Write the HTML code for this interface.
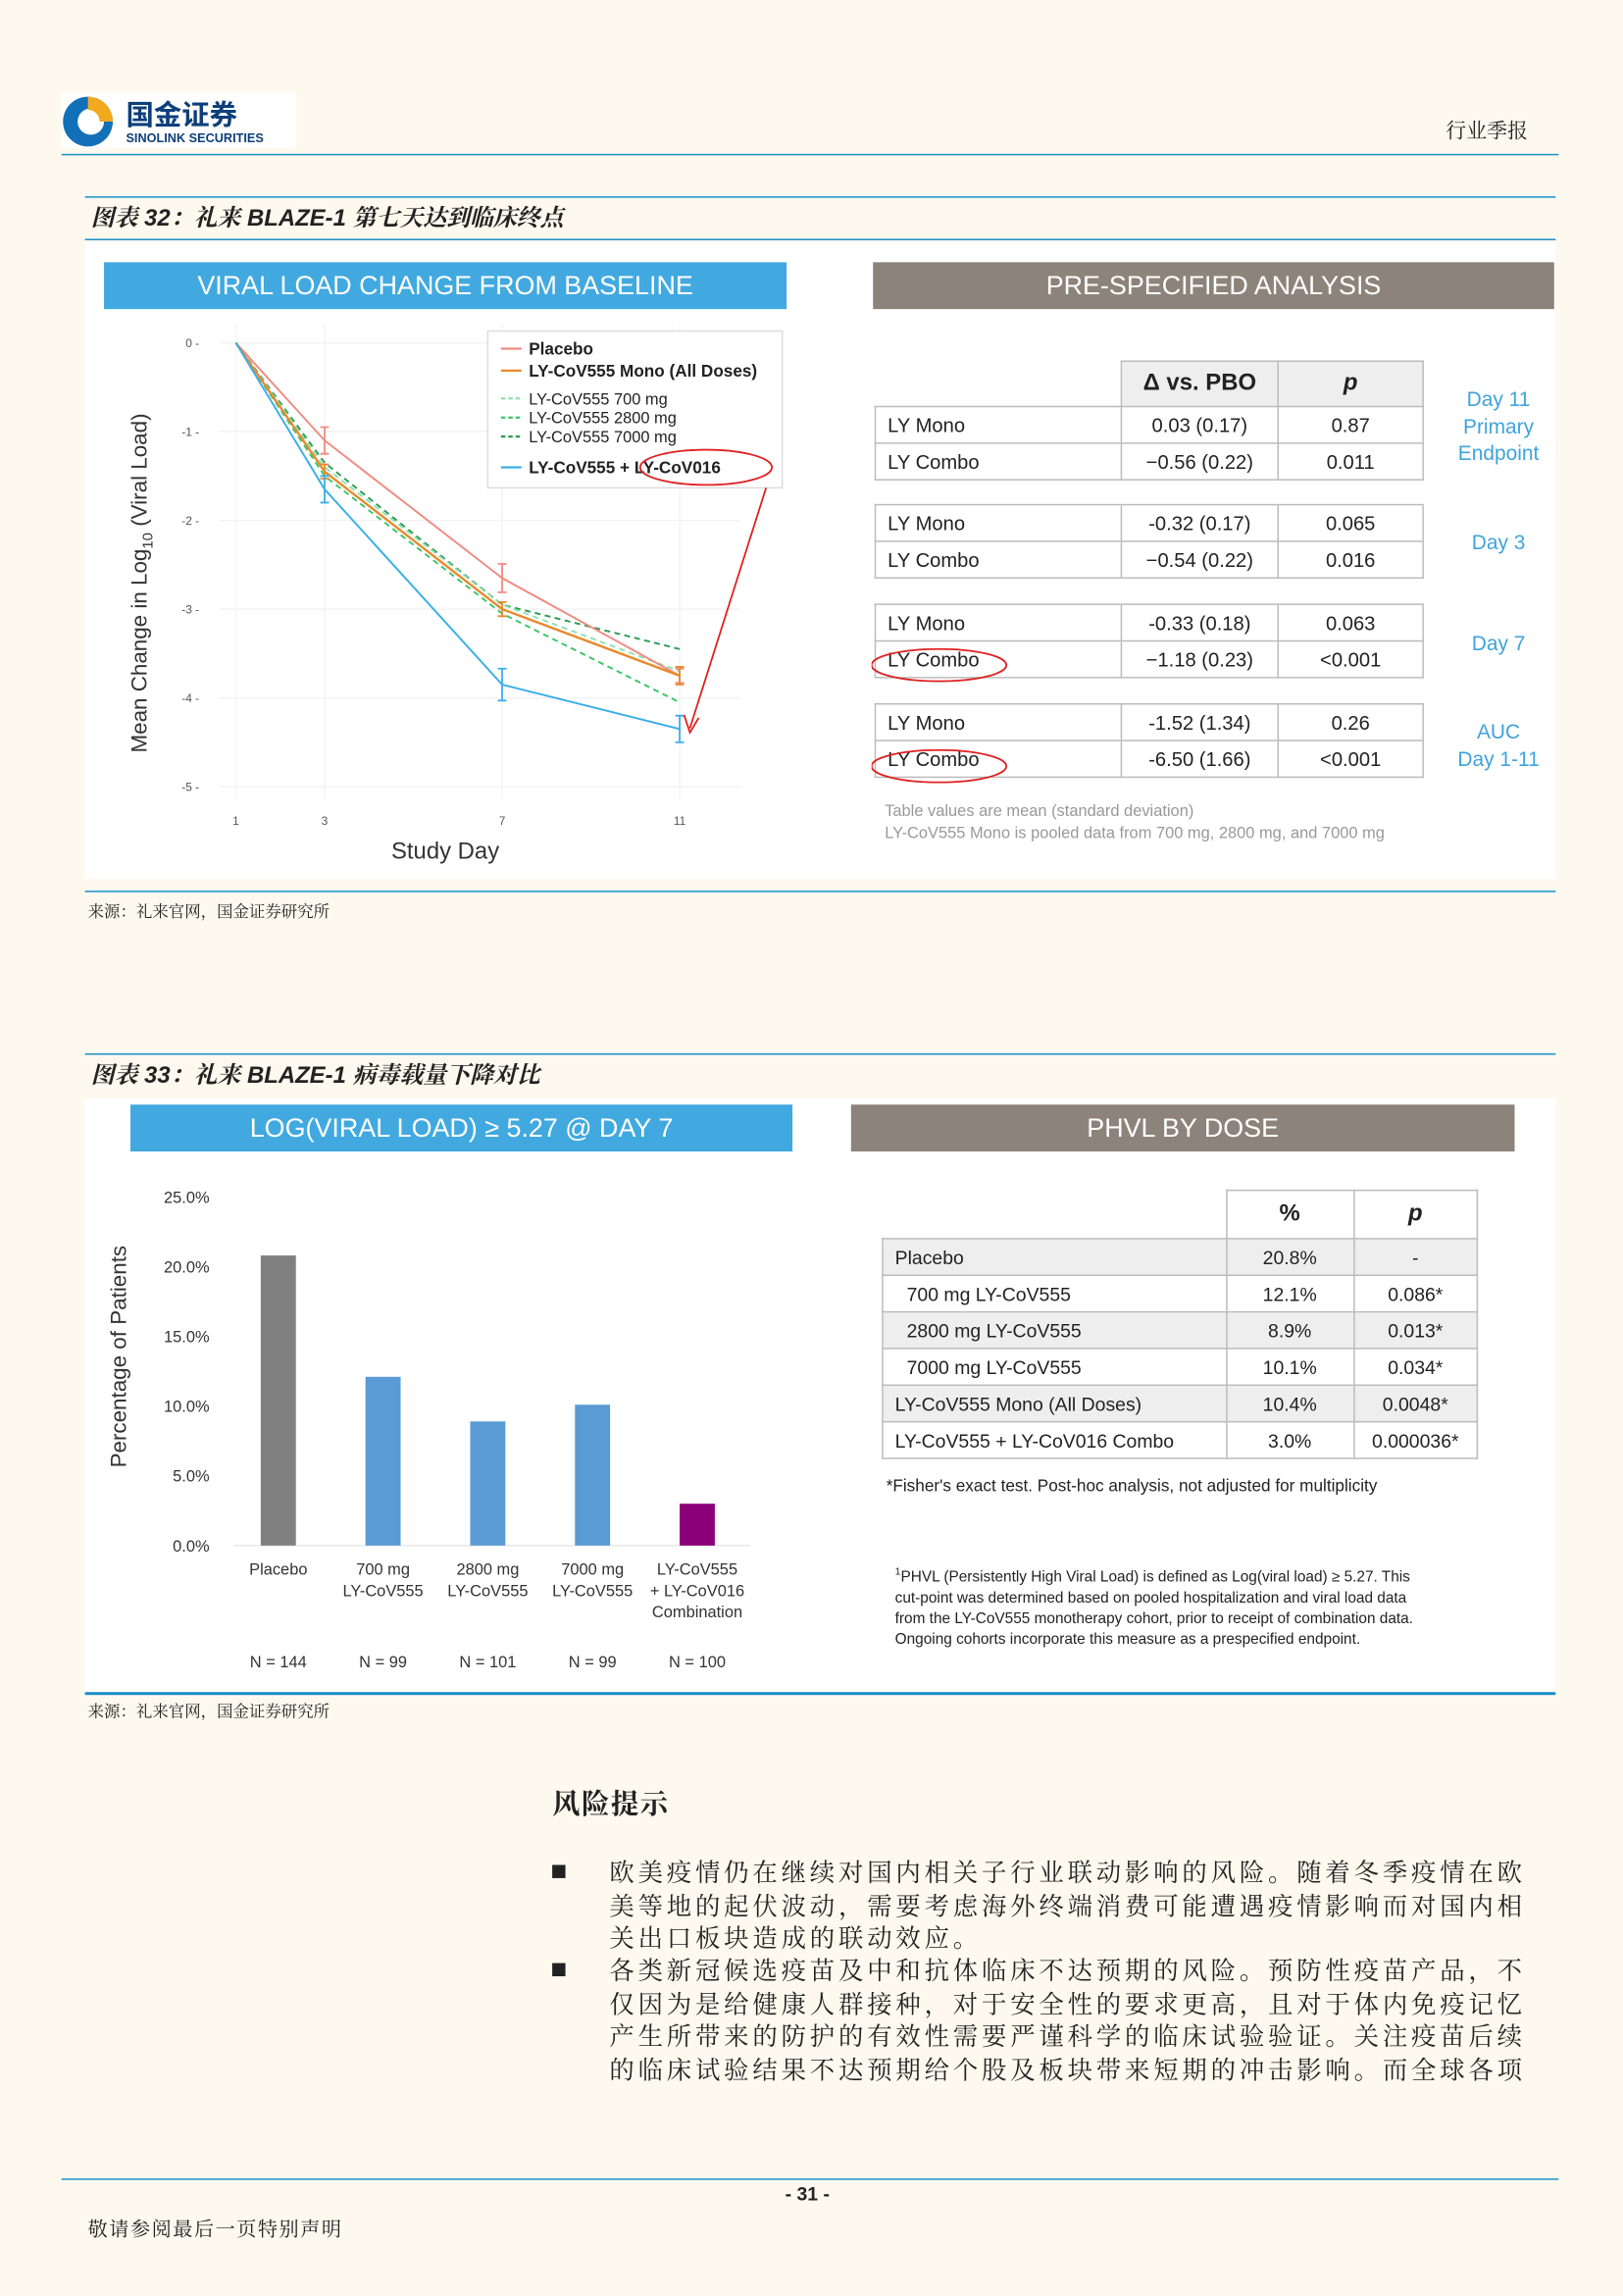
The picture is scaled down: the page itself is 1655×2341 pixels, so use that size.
<!DOCTYPE html>
<html><head><meta charset="utf-8">
<style>
html,body{margin:0;padding:0;}
body{width:1655px;height:2340px;overflow:hidden;background:#fdf9ee;}
#pg{position:absolute;left:0;top:0;width:1108px;height:1567px;transform:scale(1.4937);transform-origin:0 0;font-family:"Liberation Sans","Noto Sans CJK SC",sans-serif;color:#222;}
.a{position:absolute;}
.hl{position:absolute;height:1px;background:#1a8fc9;}
.cap{position:absolute;font-family:"Liberation Sans","Noto Serif CJK SC",sans-serif;font-style:italic;font-weight:bold;font-size:16px;}
.src{position:absolute;font-family:"Liberation Serif","Noto Serif CJK SC",serif;font-size:11px;}
.banner{position:absolute;color:#fff;text-align:center;font-size:18px;}
table{border-collapse:collapse;position:absolute;font-size:13.5px;}
td{border:1.2px solid #bbb;height:24px;padding:0 8px;}
.t2 td{height:24px;font-size:13px;}
.body{position:absolute;font-family:"Noto Serif CJK SC","Liberation Serif",serif;font-size:17px;letter-spacing:2.55px;line-height:22.5px;color:#222;white-space:nowrap;}
.bul{position:absolute;width:9px;height:9px;background:#222;}
</style></head><body>
<div id="pg">
<div class="a" style="left:42px;top:63px;width:160px;height:38px;background:#fff;"></div>
<svg class="a" style="left:42px;top:64px" width="38" height="38"><circle cx="18" cy="19" r="17" fill="#1170b8"/><circle cx="20" cy="19" r="9" fill="#fff"/><path d="M18 2 A17 17 0 0 1 35 19 L26 19 A8 8 0 0 0 18 11Z" fill="#f2a91e"/></svg>
<div class="a" style="left:86px;top:64px;font-family:'Noto Sans CJK SC',sans-serif;font-weight:bold;font-size:19px;color:#0d3f7a;">国金证券</div>
<div class="a" style="left:86px;top:89px;font-weight:bold;font-size:8.5px;color:#0d3f7a;">SINOLINK SECURITIES</div>
<div class="a" style="left:987px;top:79px;font-family:'Noto Serif CJK SC',serif;font-size:14px;">行业季报</div>
<div class="hl" style="left:42px;top:105px;width:1022px;"></div>

<div class="hl" style="left:58px;top:134px;width:1004px;"></div>
<div class="cap" style="left:62px;top:136px;">图表 32：礼来 BLAZE-1 第七天达到临床终点</div>
<div class="hl" style="left:58px;top:163px;width:1004px;"></div>
<div class="a" style="left:58px;top:165px;width:1004px;height:435px;background:#fff;"></div>
<div class="banner" style="left:71px;top:179px;width:466px;height:32px;line-height:33px;background:#41a9e0;">VIRAL LOAD CHANGE FROM BASELINE</div>
<div class="banner" style="left:596px;top:179px;width:465px;height:32px;line-height:33px;background:#8c847b;">PRE-SPECIFIED ANALYSIS</div>

<svg id="lc" class="a" style="left:0;top:0" width="600" height="600"></svg>

<table style="left:597px;top:246px;width:375px;">
<tr style="height:31px"><td style="border:none"></td><td style="background:#eee;text-align:center;font-weight:bold;font-size:16px;width:90px">Δ vs. PBO</td><td style="background:#eee;text-align:center;font-weight:bold;font-style:italic;font-size:16px;width:82px">p</td></tr>
<tr><td>LY Mono</td><td align="center">0.03 (0.17)</td><td align="center">0.87</td></tr>
<tr><td>LY Combo</td><td align="center">−0.56 (0.22)</td><td align="center">0.011</td></tr>
<tr style="height:16px"><td style="border:none;height:16px"></td><td style="border-left:none;border-right:none;height:16px"></td><td style="border-left:none;border-right:none;height:16px"></td></tr>
<tr><td>LY Mono</td><td align="center">-0.32 (0.17)</td><td align="center">0.065</td></tr>
<tr><td>LY Combo</td><td align="center">−0.54 (0.22)</td><td align="center">0.016</td></tr>
<tr style="height:17px"><td style="border:none;height:17px"></td><td style="border-left:none;border-right:none;height:17px"></td><td style="border-left:none;border-right:none;height:17px"></td></tr>
<tr><td>LY Mono</td><td align="center">-0.33 (0.18)</td><td align="center">0.063</td></tr>
<tr><td>LY Combo</td><td align="center">−1.18 (0.23)</td><td align="center">&lt;0.001</td></tr>
<tr style="height:17px"><td style="border:none;height:17px"></td><td style="border-left:none;border-right:none;height:17px"></td><td style="border-left:none;border-right:none;height:17px"></td></tr>
<tr><td>LY Mono</td><td align="center">-1.52 (1.34)</td><td align="center">0.26</td></tr>
<tr><td>LY Combo</td><td align="center">-6.50 (1.66)</td><td align="center">&lt;0.001</td></tr>
</table>
<svg class="a" style="left:595px;top:440px" width="100" height="100"><ellipse cx="46" cy="14" rx="46" ry="11" fill="none" stroke="#e02020" stroke-width="1.2"/><ellipse cx="46" cy="83" rx="46" ry="11" fill="none" stroke="#e02020" stroke-width="1.2"/></svg>
<div class="a" style="left:985px;top:263px;width:76px;text-align:center;color:#3fa3dc;font-size:14px;line-height:18.5px;">Day 11<br>Primary<br>Endpoint</div>
<div class="a" style="left:985px;top:362px;width:76px;text-align:center;color:#3fa3dc;font-size:14px;">Day 3</div>
<div class="a" style="left:985px;top:431px;width:76px;text-align:center;color:#3fa3dc;font-size:14px;">Day 7</div>
<div class="a" style="left:985px;top:490px;width:76px;text-align:center;color:#3fa3dc;font-size:14px;line-height:18.5px;">AUC<br>Day 1-11</div>
<div class="a" style="left:604px;top:547px;color:#999;font-size:11px;line-height:14.5px;">Table values are mean (standard deviation)<br>LY-CoV555 Mono is pooled data from 700 mg, 2800 mg, and 7000 mg</div>
<div class="hl" style="left:58px;top:608px;width:1004px;"></div>
<div class="src" style="left:60px;top:614px;">来源：礼来官网，国金证券研究所</div>

<div class="hl" style="left:58px;top:719px;width:1004px;"></div>
<div class="cap" style="left:62px;top:721px;">图表 33：礼来 BLAZE-1 病毒载量下降对比</div>
<div class="a" style="left:58px;top:750px;width:1004px;height:405px;background:#fff;"></div>
<div class="banner" style="left:89px;top:754px;width:452px;height:32px;line-height:33px;background:#41a9e0;">LOG(VIRAL LOAD) ≥ 5.27 @ DAY 7</div>
<div class="banner" style="left:581px;top:754px;width:453px;height:32px;line-height:33px;background:#8c847b;">PHVL BY DOSE</div>
<svg id="bc" class="a" style="left:0;top:0" width="560" height="1160"></svg>

<table class="t2" style="left:602px;top:812px;width:407px;">
<tr style="height:33px"><td style="border:none;width:218px"></td><td style="text-align:center;font-weight:bold;font-size:16px;width:70px">%</td><td style="text-align:center;font-weight:bold;font-style:italic;font-size:16px">p</td></tr>
<tr style="background:#eee"><td>Placebo</td><td align="center">20.8%</td><td align="center">-</td></tr>
<tr><td style="padding-left:16px">700 mg LY-CoV555</td><td align="center">12.1%</td><td align="center">0.086*</td></tr>
<tr style="background:#eee"><td style="padding-left:16px">2800 mg LY-CoV555</td><td align="center">8.9%</td><td align="center">0.013*</td></tr>
<tr><td style="padding-left:16px">7000 mg LY-CoV555</td><td align="center">10.1%</td><td align="center">0.034*</td></tr>
<tr style="background:#eee"><td>LY-CoV555 Mono (All Doses)</td><td align="center">10.4%</td><td align="center">0.0048*</td></tr>
<tr><td>LY-CoV555 + LY-CoV016 Combo</td><td align="center">3.0%</td><td align="center">0.000036*</td></tr>
</table>
<div class="a" style="left:605px;top:1009px;font-size:11.5px;">*Fisher's exact test. Post-hoc analysis, not adjusted for multiplicity</div>
<div class="a" style="left:611px;top:1067px;font-size:10.3px;line-height:14.3px;"><sup style="font-size:7px">1</sup>PHVL (Persistently High Viral Load) is defined as Log(viral load) ≥ 5.27. This<br>cut-point was determined based on pooled hospitalization and viral load data<br>from the LY-CoV555 monotherapy cohort, prior to receipt of combination data.<br>Ongoing cohorts incorporate this measure as a prespecified endpoint.</div>
<div class="hl" style="left:58px;top:1155px;width:1004px;height:1.5px;"></div>
<div class="src" style="left:60px;top:1160px;">来源：礼来官网，国金证券研究所</div>

<div class="a" style="left:377px;top:1217px;font-family:'Noto Serif CJK SC',serif;font-weight:bold;font-size:19px;letter-spacing:1px;">风险提示</div>
<div class="bul" style="left:377px;top:1273px;"></div>
<div class="body" style="left:416px;top:1266px;">欧美疫情仍在继续对国内相关子行业联动影响的风险。随着冬季疫情在欧<br>美等地的起伏波动，需要考虑海外终端消费可能遭遇疫情影响而对国内相<br>关出口板块造成的联动效应。</div>
<div class="bul" style="left:377px;top:1340px;"></div>
<div class="body" style="left:416px;top:1333px;">各类新冠候选疫苗及中和抗体临床不达预期的风险。预防性疫苗产品，不<br>仅因为是给健康人群接种，对于安全性的要求更高，且对于体内免疫记忆<br>产生所带来的防护的有效性需要严谨科学的临床试验验证。关注疫苗后续<br>的临床试验结果不达预期给个股及板块带来短期的冲击影响。而全球各项</div>

<div class="hl" style="left:42px;top:1487px;width:1022px;"></div>
<div class="a" style="left:536px;top:1490px;font-weight:bold;font-size:13px;">- 31 -</div>
<div class="a" style="left:60px;top:1510px;font-family:'Noto Serif CJK SC',serif;font-size:13.5px;letter-spacing:1px;">敬请参阅最后一页特别声明</div>
</div>

<script>
// line chart data
const days = [1, 3, 7, 11];
const placebo = [0, -1.1, -2.65, -3.75];
const mono = [0, -1.45, -3.0, -3.75];
const dose700 = [0, -1.4, -2.95, -3.7];
const dose2800 = [0, -1.5, -3.05, -4.05];
const dose7000 = [0, -1.35, -2.95, -3.45];
const combo = [0, -1.65, -3.85, -4.35];
const placeboErr = [0, 0.15, 0.16, 0.08];
const monoErr = [0, 0.08, 0.08, 0.1];
const comboErr = [0, 0.15, 0.18, 0.15];
const yTicks = [0, -1, -2, -3, -4, -5];
const xTicks = [1, 3, 7, 11];
// bar chart data
const barCats = [["Placebo"], ["700 mg", "LY-CoV555"], ["2800 mg", "LY-CoV555"], ["7000 mg", "LY-CoV555"], ["LY-CoV555", "+ LY-CoV016", "Combination"]];
const barVals = [20.8, 12.1, 8.9, 10.1, 3.0];
const barNs = ["N = 144", "N = 99", "N = 101", "N = 99", "N = 100"];
const barTicks = [0, 5, 10, 15, 20, 25];

const NS = "http://www.w3.org/2000/svg";
function mk(svg, tag, attrs, txt) {
  const e = document.createElementNS(NS, tag);
  for (const k in attrs) e.setAttribute(k, attrs[k]);
  if (txt !== undefined) e.textContent = txt;
  svg.appendChild(e);
  return e;
}
const lc = document.getElementById('lc');
const lx = d => 161 + (d - 1) * 30.3;
const ly = v => 234 - v * 60.6;
for (const t of yTicks) {
  let g = mk(lc, 'line', {x1: 150, x2: 505, y1: ly(t), y2: ly(t), stroke: '#f2f2f2', 'stroke-width': 1});
  
  
  let tl = mk(lc, 'text', {x: 136, y: ly(t) + 3, 'font-size': 8, fill: '#555', 'text-anchor': 'end'}, t + ' -');
  
  
}
for (const t of xTicks) {
  let g = mk(lc, 'line', {x1: lx(t), x2: lx(t), y1: 222, y2: 545, stroke: '#f4f4f4', 'stroke-width': 1});
  
  
  let tl = mk(lc, 'text', {x: lx(t), y: 563, 'font-size': 8, fill: '#555', 'text-anchor': 'middle'}, t);
  
  
}
let yt = mk(lc, 'text', {x: 0, y: 0, 'font-size': 15, fill: '#333', 'text-anchor': 'middle', transform: 'translate(100,398) rotate(-90)'});


yt.innerHTML = 'Mean Change in Log<tspan font-size="10" dy="4">10</tspan><tspan dy="-4"> (Viral Load)</tspan>';
let xt = mk(lc, 'text', {x: 304, y: 586, 'font-size': 16, fill: '#333', 'text-anchor': 'middle'}, 'Study Day');


function series(vals, color, dash, name, w) {
  const pts = vals.map((v, i) => lx(days[i]) + ',' + ly(v)).join(' ');
  const p = mk(lc, 'polyline', {points: pts, fill: 'none', stroke: color, 'stroke-width': w || 1.3, 'stroke-dasharray': dash || ''});
  
  
}
function errs(vals, e, color, name) {
  vals.forEach((v, i) => {
    if (!e[i]) return;
    const x = lx(days[i]);
    const g = mk(lc, 'path', {d: `M${x},${ly(v + e[i])}V${ly(v - e[i])}M${x - 3},${ly(v + e[i])}h6M${x - 3},${ly(v - e[i])}h6`, stroke: color, fill: 'none', 'stroke-width': 1.2});
    
    
  });
}
series(dose7000, '#2e9a55', '4,3', 'line-7000mg');
series(dose2800, '#3cc46a', '4,3', 'line-2800mg');
series(dose700, '#8fe0b0', '4,3', 'line-700mg');
series(placebo, '#f08a80', '', 'line-placebo');
series(mono, '#e8892e', '', 'line-mono-all-doses', 1.6);
series(combo, '#3aaee8', '', 'line-combo');
errs(placebo, placeboErr, '#f08a80', 'placebo-error-bar');
errs(mono, monoErr, '#e8892e', 'mono-error-bar');
errs(combo, comboErr, '#3aaee8', 'combo-error-bar');
let lg = mk(lc, 'rect', {x: 333, y: 226, width: 201, height: 107, fill: '#fff', stroke: '#ddd'});


const legItems = [['Placebo', '#f08a80', '', 238], ['LY-CoV555 Mono (All Doses)', '#e8892e', '', 253], ['LY-CoV555 700 mg', '#8fe0b0', '3,2', 272], ['LY-CoV555 2800 mg', '#3cc46a', '3,2', 285], ['LY-CoV555 7000 mg', '#2e9a55', '3,2', 298], ['LY-CoV555 + LY-CoV016', '#3aaee8', '', 319]];
legItems.forEach(it => {
  let l = mk(lc, 'line', {x1: 342, x2: 356, y1: it[3], y2: it[3], stroke: it[1], 'stroke-width': 1.5, 'stroke-dasharray': it[2]});
  
  
  let t = mk(lc, 'text', {x: 361, y: it[3] + 4, 'font-size': it[3] < 260 || it[3] > 310 ? 11.5 : 11, fill: '#222', 'font-weight': it[3] < 260 || it[3] > 310 ? 'bold' : 'normal'}, it[0]);
  
  
});
let ov = mk(lc, 'ellipse', {cx: 482, cy: 319, rx: 45, ry: 12, fill: 'none', stroke: '#e02020', 'stroke-width': 1.2});


let ar = mk(lc, 'path', {d: 'M523,333 L471,497 M467,488 L471,500 L477,490', fill: 'none', stroke: '#e02020', 'stroke-width': 1.2});



const bc = document.getElementById('bc');
const by = v => 1055 - v * 9.52;
const bx = i => 190 + i * 71.5;
for (const t of barTicks) {
  let tl = mk(bc, 'text', {x: 143, y: by(t) + 4, 'font-size': 11, fill: '#333', 'text-anchor': 'end'}, t.toFixed(1) + '%');
  
  
}
let base = mk(bc, 'line', {x1: 160, x2: 512, y1: by(0), y2: by(0), stroke: '#e6e6e6'});


const barColors = ['#808080', '#5b9bd5', '#5b9bd5', '#5b9bd5', '#8b0076'];
barVals.forEach((v, i) => {
  let r = mk(bc, 'rect', {x: bx(i) - 12, y: by(v), width: 24, height: by(0) - by(v), fill: barColors[i]});
  
  
  barCats[i].forEach((s, j) => {
    let t = mk(bc, 'text', {x: bx(i), y: 1075 + j * 14.5, 'font-size': 11, fill: '#333', 'text-anchor': 'middle'}, s);
    
    
  });
  let n = mk(bc, 'text', {x: bx(i), y: 1138, 'font-size': 11, fill: '#333', 'text-anchor': 'middle'}, barNs[i]);
  
  
});
let byt = mk(bc, 'text', {x: 0, y: 0, 'font-size': 15, fill: '#333', 'text-anchor': 'middle', transform: 'translate(86,926) rotate(-90)'}, 'Percentage of Patients');


</script>
</body></html>
